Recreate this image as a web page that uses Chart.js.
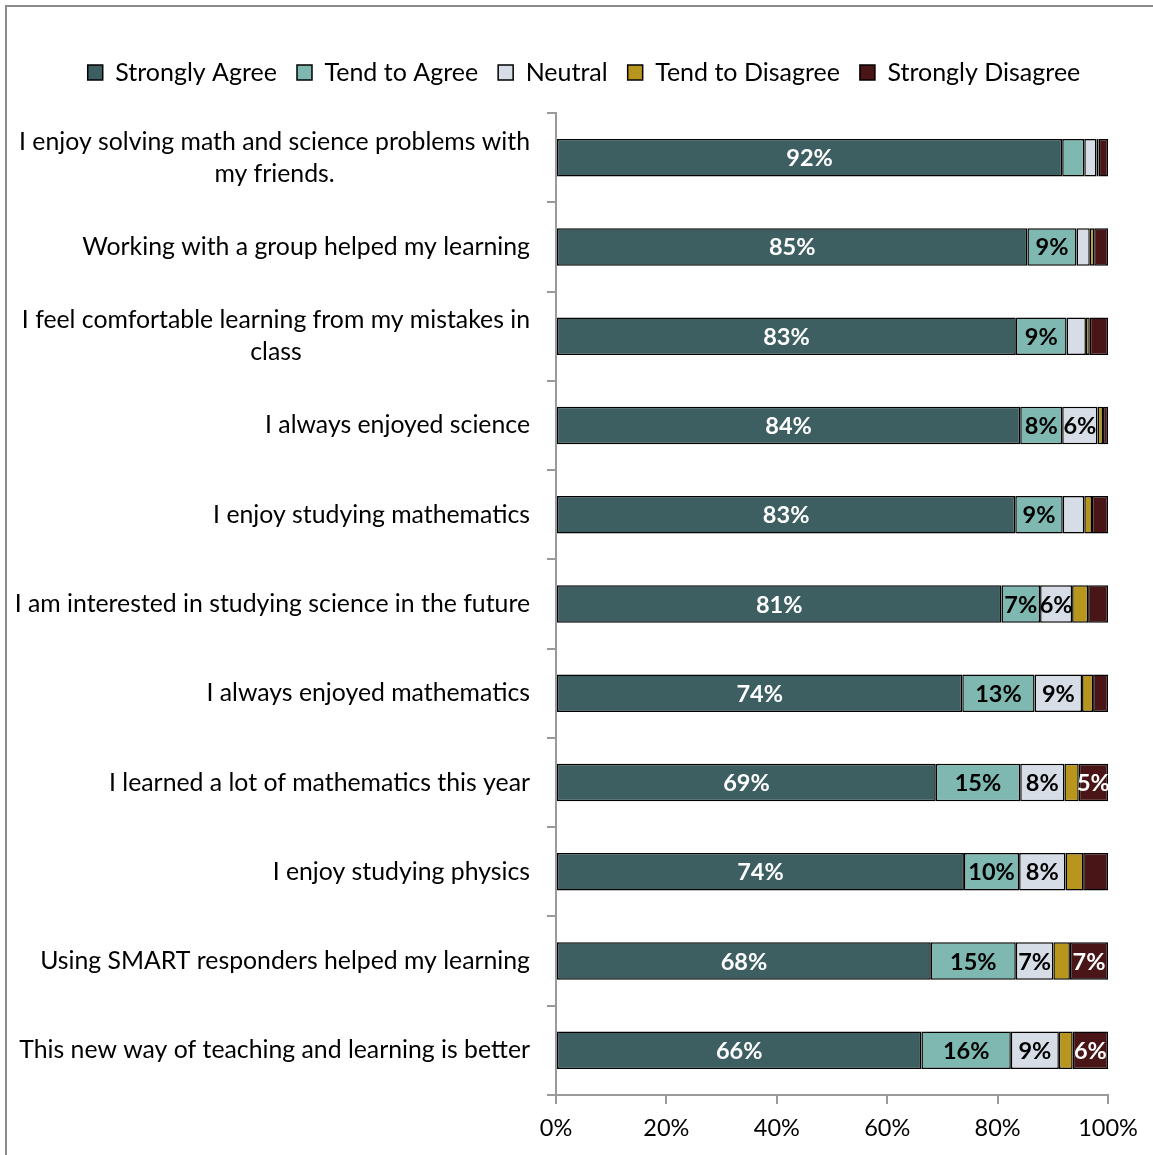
<!DOCTYPE html>
<html>
<head>
<meta charset="utf-8">
<title>Survey responses</title>
<script src="https://cdn.jsdelivr.net/npm/chart.js@4/dist/chart.umd.min.js"></script>
<style>
    html, body { margin: 0; padding: 0; background: #fff; }
    #frame {
        position: absolute; left: 5px; top: 5px;
        width: 1170px; height: 1170px;
        border-left: 2px solid #8c8c8c;
        border-top: 2px solid #8c8c8c;
    }
    #chart { position: absolute; left: 0; top: 0; }
</style>
</head>
<body>
<div id="frame"></div>
<canvas id="chart" width="1153" height="1155"></canvas>
<script>
// statements, each one an array of lines
const statements = [
    ["I enjoy solving math and science problems with", "my friends."],
    ["Working with a group helped my learning"],
    ["I feel comfortable learning from my mistakes in", "class"],
    ["I always enjoyed science"],
    ["I enjoy studying mathematics"],
    ["I am interested in studying science in the future"],
    ["I always enjoyed mathematics"],
    ["I learned a lot of mathematics this year"],
    ["I enjoy studying physics"],
    ["Using SMART responders helped my learning"],
    ["This new way of teaching and learning is better"]
];

const responseLabels = ["Strongly Agree", "Tend to Agree", "Neutral", "Tend to Disagree", "Strongly Disagree"];

// percent of answers per statement
const stronglyAgree    = [91.7, 85.4, 83.3, 84.1, 83.2, 80.7, 73.6, 68.8, 73.9, 67.9, 66.2];
const tendToAgree      = [4.0, 8.9, 9.2, 7.6, 8.6, 7.0, 13.1, 15.3, 10.0, 15.4, 16.2];
const neutral          = [2.2, 2.4, 3.5, 6.4, 3.9, 5.8, 8.6, 8.0, 8.4, 6.8, 8.7];
const tendToDisagree   = [0.4, 0.8, 0.7, 1.0, 1.4, 2.9, 2.0, 2.6, 3.2, 3.0, 2.5];
const stronglyDisagree = [1.7, 2.5, 3.3, 0.9, 2.9, 3.6, 2.7, 5.3, 4.5, 6.9, 6.4];

const xTicks = [0, 20, 40, 60, 80, 100];

const FONT = "Lato";
const colors = ["#3d5f62", "#7eb8b1", "#d6dde6", "#b8961d", "#4a1517"];
const labelColors = ["#fff", "#000", "#000", "#000", "#fff"];
const series = [stronglyAgree, tendToAgree, neutral, tendToDisagree, stronglyDisagree];

// segment labels (only the wider segments get one)
const segmentLabels = {
    id: "segmentLabels",
    afterDatasetsDraw(chart) {
        const ctx = chart.ctx;
        ctx.save();
        ctx.font = `bold 23.5px ${FONT}`;
        ctx.textAlign = "center";
        ctx.textBaseline = "middle";
        chart.data.datasets.forEach((ds, i) => {
            chart.getDatasetMeta(i).data.forEach((bar, j) => {
                const v = ds.data[j];
                if (v < 5) return;
                const cx = (bar.x + bar.base) / 2;
                ctx.fillStyle = labelColors[i];
                ctx.fillText(Math.round(v) + "%", cx, bar.y + 1);
            });
        });
        ctx.restore();
    }
};

// category labels: block right aligned, lines centred inside the block
const statementLabels = {
    id: "statementLabels",
    afterDraw(chart) {
        const ctx = chart.ctx;
        const yScale = chart.scales.y;
        const right = chart.chartArea.left - 26;
        const lineH = 32;
        ctx.save();
        ctx.font = `24.8px ${FONT}`;
        ctx.fillStyle = "#000";
        ctx.textAlign = "center";
        ctx.textBaseline = "middle";
        statements.forEach((lines, i) => {
            const y = yScale.getPixelForValue(i);
            const w = Math.max(...lines.map(l => ctx.measureText(l).width));
            const cx = right - w / 2;
            const top = y - (lines.length - 1) * lineH / 2;
            lines.forEach((l, k) => ctx.fillText(l, cx, top + k * lineH));
        });
        ctx.restore();
    }
};

// extra room under the legend
const legendGap = {
    id: "legendGap",
    beforeInit(chart) {
        const fit = chart.legend.fit;
        chart.legend.fit = function () {
            fit.call(this);
            this.height += 18;
        };
    }
};

new Chart(document.getElementById("chart"), {
    type: "bar",
    data: {
        labels: statements.map(s => s.join(" ")),
        datasets: series.map((d, i) => ({
            label: responseLabels[i],
            data: d,
            backgroundColor: colors[i],
            borderColor: "#000",
            borderWidth: 1.5,
            borderSkipped: false,
            barPercentage: 0.42,
            categoryPercentage: 1
        }))
    },
    options: {
        indexAxis: "y",
        responsive: false,
        animation: false,
        layout: {
            padding: { top: 40, left: 60, right: 45, bottom: 0 }
        },
        plugins: {
            legend: {
                position: "top",
                labels: {
                    color: "#000",
                    font: { family: FONT, size: 25 },
                    boxWidth: 15,
                    boxHeight: 15,
                    padding: 20
                }
            },
            tooltip: { enabled: false }
        },
        scales: {
            x: {
                stacked: true,
                min: 0,
                max: 100,
                afterFit: s => { s.height = 60; },
                afterBuildTicks: s => { s.ticks = xTicks.map(v => ({ value: v })); },
                grid: {
                    drawOnChartArea: false,
                    tickLength: 9,
                    color: "#9a9a9a",
                    lineWidth: 2
                },
                border: { color: "#9a9a9a", width: 2 },
                ticks: {
                    color: "#000",
                    font: { family: FONT, size: 23.5 },
                    padding: 10,
                    callback: v => v + "%"
                }
            },
            y: {
                stacked: true,
                afterFit: s => { s.width = 496; },
                grid: {
                    offset: true,
                    drawOnChartArea: false,
                    tickLength: 9,
                    color: "#9a9a9a",
                    lineWidth: 2
                },
                border: { color: "#9a9a9a", width: 2 },
                ticks: { display: false }
            }
        }
    },
    plugins: [segmentLabels, statementLabels, legendGap]
});
</script>
</body>
</html>
